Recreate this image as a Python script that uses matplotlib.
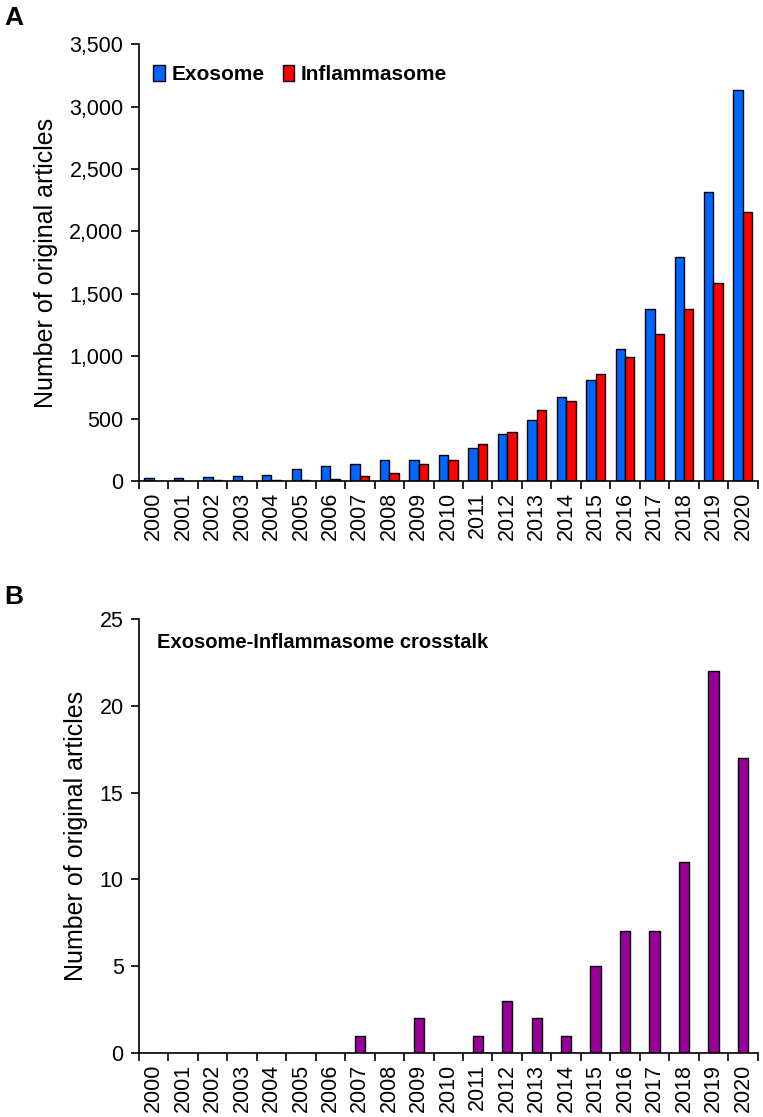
import numpy as np
import matplotlib
matplotlib.use("Agg")
from matplotlib import pyplot as plt
from matplotlib.ticker import FuncFormatter

plt.rcParams['font.family'] = ['Liberation Sans', 'DejaVu Sans']

years = [str(y) for y in range(2000, 2021)]
exosome = [20, 25, 35, 40, 50, 95, 120, 135, 165, 170, 210, 265, 375, 490,
           670, 810, 1060, 1380, 1795, 2315, 3135]
inflammasome = [0, 0, 5, 3, 8, 5, 15, 40, 60, 135, 170, 300, 395, 565,
                640, 855, 995, 1175, 1375, 1585, 2158]
crosstalk = [0, 0, 0, 0, 0, 0, 0, 1, 0, 2, 0, 1, 3, 2, 1, 5, 7, 7, 11, 22, 17]

blue = '#0066FF'
red = '#FF0000'
purple = '#990099'


def style_axes(ax, ymax, ystep):
    n = len(years)
    x = np.arange(n)
    ax.set_xlim(-0.5, n - 0.5)
    ax.set_ylim(0, ymax)
    ax.set_yticks(np.arange(0, ymax + 1, ystep))
    ax.yaxis.set_major_formatter(FuncFormatter(lambda v, p: '{:,.0f}'.format(v)))
    # ticks at the boundaries between categories, labels in the middle
    ax.set_xticks(np.arange(n + 1) - 0.5)
    ax.set_xticklabels([])
    ax.set_xticks(x, minor=True)
    ax.set_xticklabels(years, minor=True, rotation=90)
    ax.tick_params(axis='x', which='major', direction='out', length=6, width=1.2)
    ax.tick_params(axis='x', which='minor', length=0, pad=8, labelsize=15.5)
    ax.tick_params(axis='y', direction='out', length=6, width=1.2, labelsize=15.5, pad=5)
    for s in ['top', 'right']:
        ax.spines[s].set_visible(False)
    for s in ['left', 'bottom']:
        ax.spines[s].set_linewidth(1.2)
    ax.set_ylabel('Number of original articles', fontsize=18, labelpad=8)


fig = plt.figure(figsize=(7.63, 11.17), dpi=100)

# panel A
ax1 = fig.add_axes([0.182, 0.5694, 0.811, 0.391])
x = np.arange(len(years))
w = 0.32
ax1.bar(x - w / 2, exosome, w, color=blue, edgecolor='black', linewidth=1.0,
        label='Exosome')
ax1.bar(x + w / 2, inflammasome, w, color=red, edgecolor='black', linewidth=1.0,
        label='Inflammasome')
style_axes(ax1, 3500, 500)
ax1.legend(loc='upper left', bbox_to_anchor=(0.0, 0.985), ncol=2, frameon=False,
           prop={'weight': 'bold', 'size': 15}, handlelength=0.55, handleheight=0.75,
           handletextpad=0.3, columnspacing=0.9, borderaxespad=0.3)
fig.text(0.006, 0.995, 'A', fontsize=19, fontweight='bold', va='top', ha='left')

# panel B
ax2 = fig.add_axes([0.182, 0.0573, 0.811, 0.3885])
ax2.bar(x, crosstalk, 0.35, color=purple, edgecolor='black', linewidth=1.0)
style_axes(ax2, 25, 5)
ax2.text(0.03, 0.945, 'Exosome-Inflammasome crosstalk', transform=ax2.transAxes,
         fontsize=14.5, fontweight='bold', va='center', ha='left')
fig.text(0.006, 0.476, 'B', fontsize=19, fontweight='bold', va='top', ha='left')

fig.savefig('out.png', dpi=100)
